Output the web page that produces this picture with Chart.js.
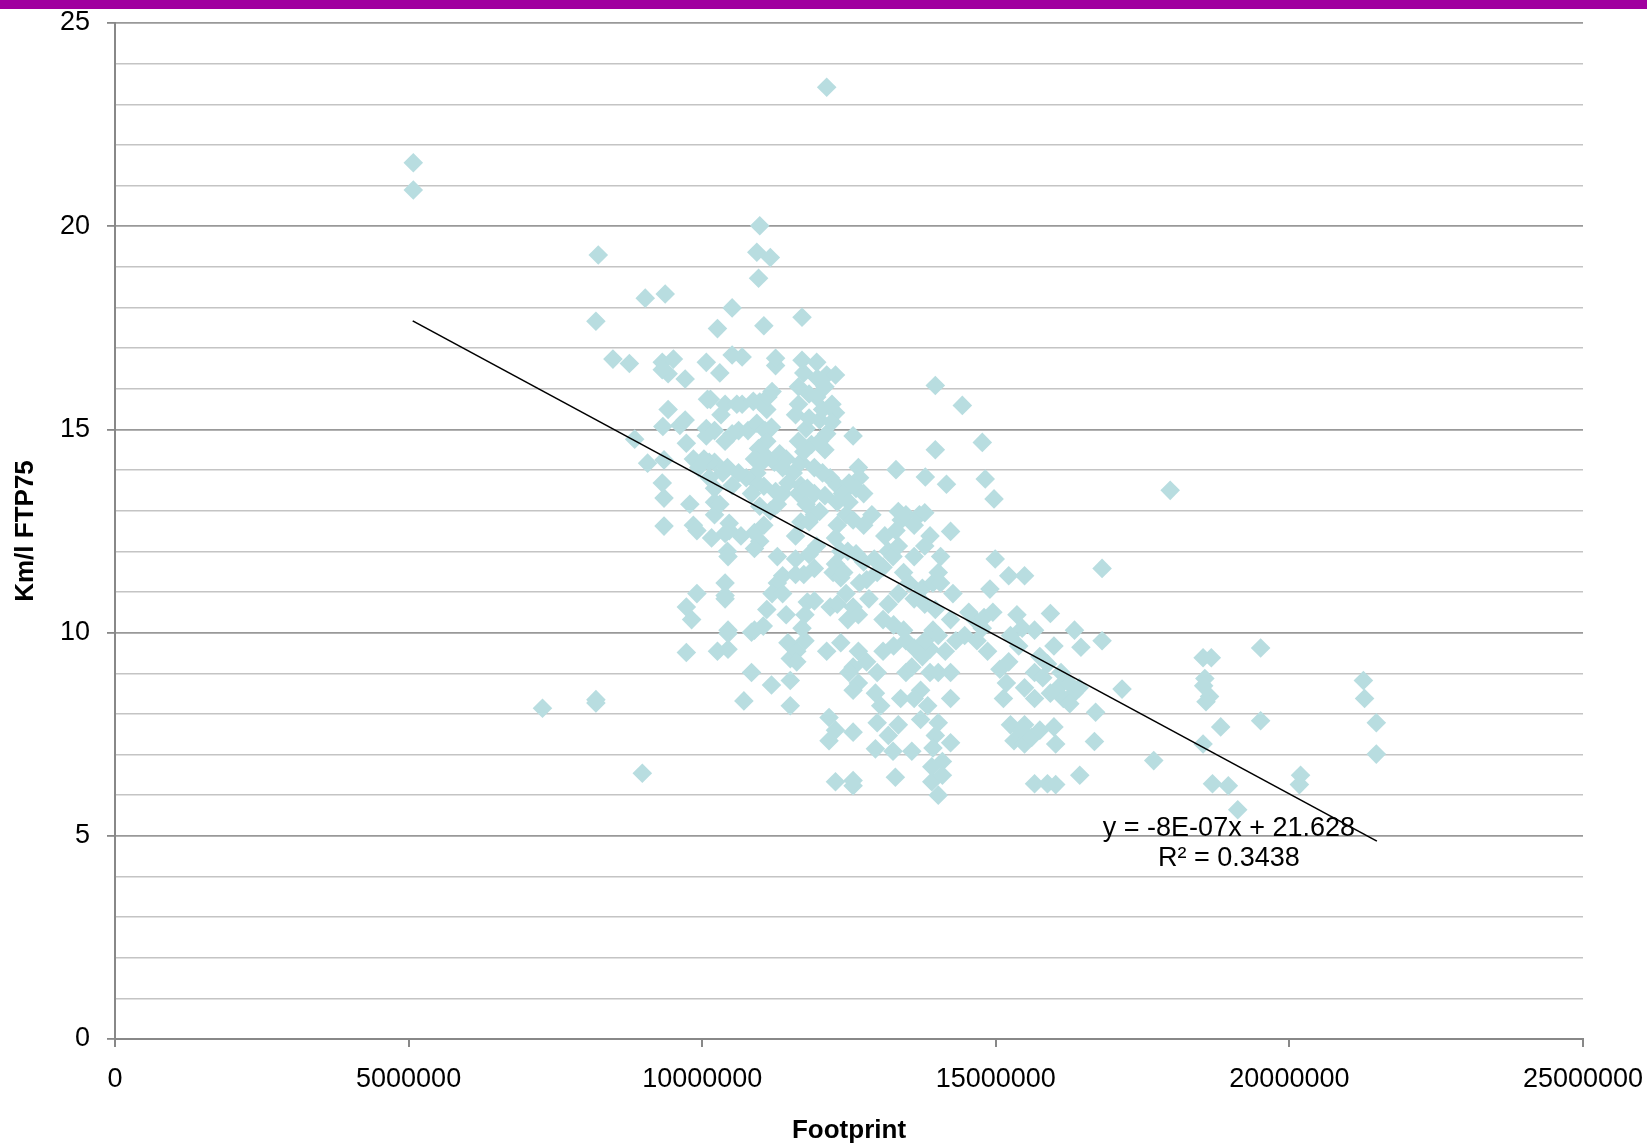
<!DOCTYPE html>
<html>
<head>
<meta charset="utf-8">
<script src="https://cdn.jsdelivr.net/npm/chart.js@4/dist/chart.umd.min.js"></script>
<style>
  html, body { margin: 0; padding: 0; background: #fff; }
  #wrap { position: relative; width: 1647px; height: 1146px; }
  #topbar { position: absolute; left: 0; top: 0; width: 1647px; height: 9px; background: #a0009f; }
</style>
</head>
<body>
<div id="wrap">
  <canvas id="c"></canvas>
  <div id="topbar"></div>
</div>
<script>
// Footprint values (x)
const footprint = [
5.08e6,5.08e6,12.12e6,8.23e6,8.19e6,8.48e6,8.76e6,9.03e6,9.37e6,8.85e6,
9.07e6,7.28e6,8.19e6,8.19e6,8.98e6,10.98e6,10.93e6,11.16e6,10.96e6,10.51e6,
10.26e6,11.05e6,11.70e6,13.97e6,14.43e6,14.77e6,13.97e6,14.82e6,14.97e6,14.16e6,
14.23e6,13.80e6,13.30e6,17.97e6,16.81e6,16.81e6,17.15e6,17.69e6,16.70e6,16.68e6,
16.43e6,16.34e6,16.45e6,15.93e6,15.49e6,14.99e6,15.22e6,14.90e6,18.56e6,18.54e6,
18.67e6,18.53e6,18.64e6,18.58e6,18.83e6,18.53e6,18.69e6,18.96e6,19.12e6,19.51e6,
19.51e6,20.19e6,20.17e6,21.26e6,21.28e6,21.48e6,21.48e6,15.66e6,15.88e6,16.02e6,
14.02e6,13.91e6,14.09e6,13.29e6,12.57e6,12.57e6,12.27e6,10.71e6,10.84e6,10.84e6,
11.04e6,11.18e6,11.50e6,9.73e6,10.26e6,10.44e6,10.44e6,10.44e6,9.73e6,9.82e6,
9.91e6,10.39e6,10.39e6,10.39e6,10.43e6,10.44e6,10.46e6,10.46e6,9.85e6,9.91e6,
9.79e6,9.35e6,9.35e6,9.32e6,9.35e6,9.33e6,9.42e6,9.62e6,9.71e6,9.73e6,
9.85e6,9.71e6,9.42e6,9.32e6,9.51e6,9.32e6,10.07e6,10.30e6,10.09e6,10.14e6,
10.68e6,10.51e6,10.39e6,10.32e6,10.59e6,10.68e6,10.87e6,10.98e6,11.10e6,11.12e6,
11.19e6,11.25e6,11.25e6,10.07e6,10.07e6,10.21e6,10.39e6,10.51e6,10.62e6,10.78e6,
10.93e6,11.07e6,11.18e6,11.10e6,10.96e6,10.89e6,11.02e6,11.10e6,11.23e6,11.32e6,
11.43e6,11.37e6,11.55e6,11.46e6,11.37e6,11.25e6,11.05e6,10.93e6,10.84e6,10.93e6,
10.75e6,10.62e6,10.51e6,10.43e6,10.35e6,10.21e6,10.12e6,10.03e6,9.94e6,10.12e6,
10.21e6,10.21e6,10.21e6,10.30e6,10.16e6,10.39e6,10.66e6,10.89e6,11.05e6,10.98e6,
10.89e6,10.98e6,11.16e6,11.28e6,11.28e6,11.37e6,11.28e6,11.19e6,11.37e6,11.43e6,
11.10e6,10.89e6,11.46e6,11.50e6,11.61e6,11.61e6,11.50e6,11.75e6,11.70e6,11.75e6,
11.79e6,11.91e6,11.73e6,11.59e6,11.91e6,11.82e6,11.95e6,11.59e6,11.59e6,11.68e6,
11.82e6,11.91e6,12.00e6,11.77e6,11.64e6,11.68e6,11.79e6,11.91e6,12.09e6,12.18e6,
12.30e6,12.05e6,11.91e6,11.68e6,11.73e6,11.86e6,12.00e6,12.09e6,12.12e6,11.77e6,
11.64e6,11.59e6,11.82e6,12.00e6,12.05e6,12.21e6,12.27e6,12.21e6,11.95e6,11.82e6,
11.64e6,11.64e6,11.73e6,11.70e6,11.96e6,12.12e6,12.27e6,12.09e6,11.95e6,12.57e6,
12.66e6,12.68e6,12.50e6,12.39e6,12.62e6,12.75e6,12.50e6,12.30e6,12.45e6,12.57e6,
12.75e6,12.89e6,12.30e6,12.27e6,12.36e6,12.48e6,12.62e6,12.75e6,12.27e6,12.23e6,
12.36e6,12.41e6,12.18e6,12.30e6,12.45e6,12.57e6,12.48e6,12.66e6,12.84e6,12.68e6,
12.80e6,12.98e6,12.93e6,13.08e6,13.17e6,13.25e6,13.34e6,13.11e6,13.30e6,13.39e6,
13.34e6,13.47e6,13.61e6,13.70e6,13.79e6,13.88e6,13.79e6,13.61e6,13.43e6,13.52e6,
13.75e6,13.93e6,13.97e6,13.79e6,13.61e6,13.34e6,13.17e6,13.08e6,13.26e6,13.43e6,
13.47e6,13.26e6,13.08e6,12.98e6,12.80e6,12.66e6,12.57e6,12.66e6,12.50e6,12.36e6,
12.12e6,12.57e6,12.95e6,13.04e6,12.98e6,12.95e6,13.25e6,13.17e6,13.34e6,13.38e6,
13.47e6,13.57e6,13.61e6,13.75e6,13.88e6,13.79e6,13.93e6,14.02e6,13.88e6,14.02e6,
13.72e6,13.61e6,13.84e6,13.72e6,14.02e6,13.97e6,13.93e6,13.57e6,13.91e6,14.09e6,
14.23e6,14.23e6,14.23e6,14.14e6,14.32e6,14.47e6,14.23e6,14.27e6,14.06e6,14.02e6,
14.06e6,14.54e6,14.64e6,14.80e6,14.95e6,14.77e6,14.68e6,14.86e6,15.07e6,15.22e6,
15.18e6,15.13e6,15.25e6,15.31e6,15.43e6,15.49e6,15.61e6,15.75e6,15.99e6,16.02e6,
15.36e6,15.45e6,15.25e6,15.39e6,15.66e6,15.66e6,15.75e6,15.80e6,15.88e6,15.99e6,
16.06e6,16.15e6,16.24e6,16.33e6,16.42e6,16.11e6,15.49e6,15.66e6,15.93e6,16.26e6,
15.49e6,12.16e6,12.27e6,12.16e6,12.57e6
];
// Km/l FTP75 values (y)
const kmPerLitre = [
21.56,20.89,23.42,19.29,17.66,16.73,16.62,18.23,18.33,14.76,
14.17,8.14,8.35,8.27,6.54,20.01,19.36,19.23,18.72,17.99,
17.48,17.55,17.76,16.08,15.59,14.68,14.50,13.78,13.29,13.65,
12.49,13.83,14.01,13.50,11.58,9.80,8.61,6.85,8.04,7.32,
6.49,10.06,9.64,10.47,11.40,11.81,11.40,11.07,8.87,8.69,
9.38,9.38,8.43,8.30,7.68,7.26,6.28,6.23,5.64,9.62,
7.83,6.49,6.26,8.82,8.38,7.78,7.01,6.28,6.28,6.26,
6.00,6.33,6.49,6.44,6.23,6.36,6.33,8.32,9.02,10.01,
10.16,8.71,8.20,9.51,9.54,9.59,9.98,10.06,10.63,10.32,
10.96,10.91,11.22,10.83,12.00,11.87,12.69,12.51,12.64,12.51,
13.16,12.62,13.31,13.68,14.25,15.07,15.49,15.10,15.23,14.66,
14.27,16.24,16.37,16.65,16.73,16.47,16.65,16.39,15.74,15.74,
16.78,16.83,15.62,15.36,15.62,15.62,15.69,15.67,15.49,15.80,
15.93,16.57,16.75,15.02,14.84,14.97,14.71,14.89,14.97,14.97,
15.15,14.97,15.05,14.71,14.53,14.27,14.19,14.32,14.19,14.40,
14.27,14.06,13.93,13.68,13.42,13.47,13.60,13.68,13.42,13.93,
13.81,13.93,13.62,14.06,13.93,14.19,14.19,14.27,14.06,13.81,
13.55,12.90,13.21,13.16,12.33,12.44,12.38,12.46,12.64,12.25,
12.07,13.11,13.00,13.16,11.87,11.40,11.22,10.96,10.96,10.44,
10.57,10.06,9.75,9.36,9.54,9.28,8.82,9.80,10.11,10.44,
10.75,10.78,11.43,11.43,11.58,11.92,12.13,11.81,12.38,12.72,
12.72,12.90,12.98,13.16,13.42,13.62,13.55,13.42,13.37,13.81,
13.62,13.93,14.06,14.19,14.45,14.63,14.71,14.50,14.89,15.02,
14.71,15.36,15.28,15.23,15.49,15.62,15.41,15.18,15.80,15.87,
15.62,16.05,16.39,16.70,16.26,16.34,16.34,16.05,16.65,14.84,
14.06,13.81,13.68,13.42,13.55,13.42,13.21,13.21,12.90,12.77,
12.64,12.90,12.64,12.33,12.00,12.00,11.94,11.74,11.69,11.48,
11.35,11.48,10.63,10.70,10.96,10.63,10.32,10.44,10.83,11.22,
11.30,11.48,11.81,11.61,12.00,11.87,12.13,12.38,12.51,12.77,
12.98,12.90,12.64,12.90,12.95,12.38,12.13,11.87,11.48,11.22,
11.09,11.22,10.57,10.70,10.83,10.96,10.70,10.32,10.19,10.06,
9.80,9.67,9.54,9.02,9.28,9.54,9.15,8.76,9.02,9.75,
9.54,8.58,8.51,8.20,7.78,7.14,7.08,7.47,7.73,8.38,
9.02,9.15,9.62,9.41,9.59,9.80,10.06,9.93,9.02,9.02,
8.58,8.38,8.20,7.86,7.78,7.47,7.16,7.08,6.70,6.83,
7.29,8.38,9.02,9.54,9.80,9.93,10.32,10.96,11.22,11.48,
11.87,10.50,10.32,10.37,10.50,10.11,9.80,9.54,9.10,9.28,
8.76,8.38,7.73,7.34,7.60,7.26,7.42,7.60,7.68,7.26,
10.44,10.11,9.93,9.67,10.06,9.02,9.41,8.89,9.23,9.67,
8.64,8.38,8.76,8.51,8.64,9.02,8.64,8.38,8.51,8.25,
7.73,7.91,7.60,7.34,7.55
];
// Linear trendline end points
const trendX = [5.07e6, 21.49e6];
const trendY = [17.67, 4.87];
const trendLabels = ['y = -8E-07x + 21.628', 'R\u00B2 = 0.3438'];
const labelAnchorX = 18.97e6;
const labelAnchorY = [5.19, 4.45];
// Axis ticks
const xTickStep = 5e6, xMax = 25e6;
const yTickStep = 1, yMajorStep = 5, yMax = 25;

const FONT = '"Liberation Sans", Arial, sans-serif';
const pointsData = footprint.map((x, i) => ({ x: x, y: kmPerLitre[i] }));
const trendData = trendX.map((x, i) => ({ x: x, y: trendY[i] }));

const eqPlugin = {
  id: 'eq',
  afterDatasetsDraw(chart) {
    const ctx = chart.ctx;
    const xs = chart.scales.x, ys = chart.scales.y;
    ctx.save();
    ctx.fillStyle = '#000';
    ctx.font = '27px ' + FONT;
    ctx.textAlign = 'center';
    ctx.textBaseline = 'middle';
    trendLabels.forEach((t, i) => {
      ctx.fillText(t, xs.getPixelForValue(labelAnchorX), ys.getPixelForValue(labelAnchorY[i]));
    });
    ctx.restore();
  }
};

new Chart(document.getElementById('c'), {
  type: 'scatter',
  data: {
    datasets: [
      {
        type: 'line',
        data: trendData,
        borderColor: '#000',
        borderWidth: 1.6,
        pointRadius: 0,
        fill: false,
        order: 0
      },
      {
        data: pointsData,
        pointStyle: 'rectRot',
        pointRadius: 9.8,
        pointBackgroundColor: '#b8dde0',
        pointBorderColor: '#b8dde0',
        pointBorderWidth: 0,
        order: 1
      }
    ]
  },
  options: {
    responsive: true,
    maintainAspectRatio: false,
    animation: false,
    events: [],
    layout: { padding: { top: 23, right: 64, bottom: 0, left: 0 } },
    plugins: { legend: { display: false }, tooltip: { enabled: false } },
    scales: {
      x: {
        type: 'linear',
        min: 0, max: xMax,
        afterFit: s => { s.height = 107; s.paddingLeft = 0; s.paddingRight = 0; },
        border: { color: '#888', width: 2 },
        grid: { drawOnChartArea: false, drawTicks: true, tickLength: 8, color: '#888', lineWidth: 2 },
        ticks: {
          stepSize: xTickStep, autoSkip: false, maxRotation: 0,
          color: '#000', font: { family: FONT, size: 27 }, padding: 16,
          callback: v => String(v)
        },
        title: {
          display: true, text: 'Footprint', color: '#000',
          font: { family: FONT, size: 26, weight: 'bold', lineHeight: 1.2 },
          padding: { top: 0, bottom: 0 }
        }
      },
      y: {
        type: 'linear',
        min: 0, max: yMax,
        afterFit: s => { s.width = 115; s.paddingTop = 0; s.paddingBottom = 0; },
        border: { color: '#888', width: 2 },
        grid: {
          drawTicks: true, tickLength: 8,
          color: c => (c.tick && c.tick.value % yMajorStep === 0) ? '#999999' : '#c4c4c4',
          lineWidth: c => (c.tick && c.tick.value % yMajorStep === 0) ? 1.8 : 1.4,
          tickColor: c => (c.tick && c.tick.value % yMajorStep === 0) ? '#888' : 'rgba(0,0,0,0)'
        },
        ticks: {
          stepSize: yTickStep, autoSkip: false,
          color: '#000', font: { family: FONT, size: 27 }, padding: 17,
          callback: v => (v % yMajorStep === 0 ? String(v) : '')
        },
        title: {
          display: true, text: 'Km/l FTP75', color: '#000',
          font: { family: FONT, size: 26, weight: 'bold', lineHeight: 1.2 },
          padding: { top: 10, bottom: 0 }
        }
      }
    }
  },
  plugins: [eqPlugin]
});
</script>
</body>
</html>
